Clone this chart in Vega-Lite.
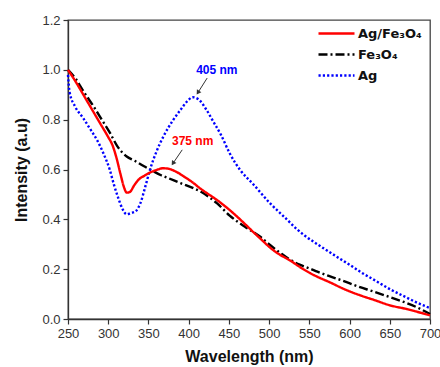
{
  "$schema": "https://vega.github.io/schema/vega-lite/v6.json",
  "width": 362,
  "height": 299,
  "autosize": {"type": "none"},
  "padding": {"left": 68, "top": 20, "right": 10, "bottom": 48},
  "background": "white",
  "config": {
    "font": "Liberation Sans",
    "view": {"stroke": "#444", "strokeWidth": 1.3},
    "axis": {"domainColor": "#333", "domainWidth": 1.3, "tickColor": "#333", "tickWidth": 1.2, "labelColor": "#333", "labelFontSize": 13, "grid": false, "titleFontSize": 16, "titleFontWeight": "bold", "titleColor": "#111"}
  },
  "datasets": {
    "spectra": [
      {"series": "Fe₃O₄", "wl": 250, "v": 1.0},
      {"series": "Fe₃O₄", "wl": 260, "v": 0.962},
      {"series": "Fe₃O₄", "wl": 270, "v": 0.91},
      {"series": "Fe₃O₄", "wl": 282, "v": 0.852},
      {"series": "Fe₃O₄", "wl": 292, "v": 0.8},
      {"series": "Fe₃O₄", "wl": 302, "v": 0.748},
      {"series": "Fe₃O₄", "wl": 311, "v": 0.695},
      {"series": "Fe₃O₄", "wl": 323, "v": 0.652},
      {"series": "Fe₃O₄", "wl": 333, "v": 0.635},
      {"series": "Fe₃O₄", "wl": 344, "v": 0.614},
      {"series": "Fe₃O₄", "wl": 355, "v": 0.595},
      {"series": "Fe₃O₄", "wl": 365, "v": 0.578},
      {"series": "Fe₃O₄", "wl": 375, "v": 0.565},
      {"series": "Fe₃O₄", "wl": 390, "v": 0.545},
      {"series": "Fe₃O₄", "wl": 406, "v": 0.525},
      {"series": "Fe₃O₄", "wl": 414, "v": 0.513},
      {"series": "Fe₃O₄", "wl": 425, "v": 0.49},
      {"series": "Fe₃O₄", "wl": 435, "v": 0.465},
      {"series": "Fe₃O₄", "wl": 451, "v": 0.415},
      {"series": "Fe₃O₄", "wl": 470, "v": 0.37},
      {"series": "Fe₃O₄", "wl": 489, "v": 0.33},
      {"series": "Fe₃O₄", "wl": 497, "v": 0.308},
      {"series": "Fe₃O₄", "wl": 514, "v": 0.265},
      {"series": "Fe₃O₄", "wl": 525, "v": 0.24},
      {"series": "Fe₃O₄", "wl": 538, "v": 0.218},
      {"series": "Fe₃O₄", "wl": 551, "v": 0.202},
      {"series": "Fe₃O₄", "wl": 560, "v": 0.19},
      {"series": "Fe₃O₄", "wl": 575, "v": 0.172},
      {"series": "Fe₃O₄", "wl": 592, "v": 0.153},
      {"series": "Fe₃O₄", "wl": 610, "v": 0.131},
      {"series": "Fe₃O₄", "wl": 630, "v": 0.11},
      {"series": "Fe₃O₄", "wl": 650, "v": 0.088},
      {"series": "Fe₃O₄", "wl": 671, "v": 0.064},
      {"series": "Fe₃O₄", "wl": 685, "v": 0.045},
      {"series": "Fe₃O₄", "wl": 700, "v": 0.02},
      {"series": "Ag", "wl": 250, "v": 0.98},
      {"series": "Ag", "wl": 252, "v": 0.91},
      {"series": "Ag", "wl": 259, "v": 0.852},
      {"series": "Ag", "wl": 269, "v": 0.806},
      {"series": "Ag", "wl": 277, "v": 0.765},
      {"series": "Ag", "wl": 286, "v": 0.719},
      {"series": "Ag", "wl": 294, "v": 0.665},
      {"series": "Ag", "wl": 302, "v": 0.598},
      {"series": "Ag", "wl": 307, "v": 0.54},
      {"series": "Ag", "wl": 312, "v": 0.49},
      {"series": "Ag", "wl": 318, "v": 0.44},
      {"series": "Ag", "wl": 323, "v": 0.42},
      {"series": "Ag", "wl": 328, "v": 0.425},
      {"series": "Ag", "wl": 334, "v": 0.432},
      {"series": "Ag", "wl": 340, "v": 0.465},
      {"series": "Ag", "wl": 346, "v": 0.53},
      {"series": "Ag", "wl": 352, "v": 0.6},
      {"series": "Ag", "wl": 360, "v": 0.672},
      {"series": "Ag", "wl": 369, "v": 0.735},
      {"series": "Ag", "wl": 380, "v": 0.795},
      {"series": "Ag", "wl": 390, "v": 0.84},
      {"series": "Ag", "wl": 398, "v": 0.873},
      {"series": "Ag", "wl": 405, "v": 0.89},
      {"series": "Ag", "wl": 412, "v": 0.882},
      {"series": "Ag", "wl": 422, "v": 0.84},
      {"series": "Ag", "wl": 431, "v": 0.79},
      {"series": "Ag", "wl": 440, "v": 0.74},
      {"series": "Ag", "wl": 451, "v": 0.665},
      {"series": "Ag", "wl": 464, "v": 0.598},
      {"series": "Ag", "wl": 480, "v": 0.542},
      {"series": "Ag", "wl": 501, "v": 0.465},
      {"series": "Ag", "wl": 522, "v": 0.4},
      {"series": "Ag", "wl": 534, "v": 0.362},
      {"series": "Ag", "wl": 545, "v": 0.333},
      {"series": "Ag", "wl": 560, "v": 0.3},
      {"series": "Ag", "wl": 572, "v": 0.275},
      {"series": "Ag", "wl": 585, "v": 0.248},
      {"series": "Ag", "wl": 600, "v": 0.218},
      {"series": "Ag", "wl": 615, "v": 0.186},
      {"series": "Ag", "wl": 630, "v": 0.158},
      {"series": "Ag", "wl": 650, "v": 0.12},
      {"series": "Ag", "wl": 671, "v": 0.086},
      {"series": "Ag", "wl": 685, "v": 0.064},
      {"series": "Ag", "wl": 700, "v": 0.044},
      {"series": "Ag/Fe₃O₄", "wl": 250, "v": 1.0},
      {"series": "Ag/Fe₃O₄", "wl": 260, "v": 0.95},
      {"series": "Ag/Fe₃O₄", "wl": 270, "v": 0.895},
      {"series": "Ag/Fe₃O₄", "wl": 280, "v": 0.84},
      {"series": "Ag/Fe₃O₄", "wl": 290, "v": 0.785},
      {"series": "Ag/Fe₃O₄", "wl": 300, "v": 0.73},
      {"series": "Ag/Fe₃O₄", "wl": 305, "v": 0.7},
      {"series": "Ag/Fe₃O₄", "wl": 310, "v": 0.65},
      {"series": "Ag/Fe₃O₄", "wl": 315, "v": 0.585},
      {"series": "Ag/Fe₃O₄", "wl": 320, "v": 0.525},
      {"series": "Ag/Fe₃O₄", "wl": 323, "v": 0.507},
      {"series": "Ag/Fe₃O₄", "wl": 327, "v": 0.51},
      {"series": "Ag/Fe₃O₄", "wl": 332, "v": 0.535},
      {"series": "Ag/Fe₃O₄", "wl": 338, "v": 0.56},
      {"series": "Ag/Fe₃O₄", "wl": 345, "v": 0.575},
      {"series": "Ag/Fe₃O₄", "wl": 352, "v": 0.588},
      {"series": "Ag/Fe₃O₄", "wl": 360, "v": 0.598},
      {"series": "Ag/Fe₃O₄", "wl": 368, "v": 0.605},
      {"series": "Ag/Fe₃O₄", "wl": 375, "v": 0.603},
      {"series": "Ag/Fe₃O₄", "wl": 385, "v": 0.59},
      {"series": "Ag/Fe₃O₄", "wl": 395, "v": 0.57},
      {"series": "Ag/Fe₃O₄", "wl": 405, "v": 0.548},
      {"series": "Ag/Fe₃O₄", "wl": 414, "v": 0.525},
      {"series": "Ag/Fe₃O₄", "wl": 425, "v": 0.5},
      {"series": "Ag/Fe₃O₄", "wl": 435, "v": 0.478},
      {"series": "Ag/Fe₃O₄", "wl": 450, "v": 0.44},
      {"series": "Ag/Fe₃O₄", "wl": 472, "v": 0.375},
      {"series": "Ag/Fe₃O₄", "wl": 480, "v": 0.35},
      {"series": "Ag/Fe₃O₄", "wl": 490, "v": 0.32},
      {"series": "Ag/Fe₃O₄", "wl": 500, "v": 0.29},
      {"series": "Ag/Fe₃O₄", "wl": 510, "v": 0.265},
      {"series": "Ag/Fe₃O₄", "wl": 526, "v": 0.235},
      {"series": "Ag/Fe₃O₄", "wl": 540, "v": 0.205},
      {"series": "Ag/Fe₃O₄", "wl": 551, "v": 0.184},
      {"series": "Ag/Fe₃O₄", "wl": 563, "v": 0.165},
      {"series": "Ag/Fe₃O₄", "wl": 575, "v": 0.148},
      {"series": "Ag/Fe₃O₄", "wl": 592, "v": 0.122},
      {"series": "Ag/Fe₃O₄", "wl": 600, "v": 0.111},
      {"series": "Ag/Fe₃O₄", "wl": 615, "v": 0.093},
      {"series": "Ag/Fe₃O₄", "wl": 630, "v": 0.077},
      {"series": "Ag/Fe₃O₄", "wl": 650, "v": 0.055},
      {"series": "Ag/Fe₃O₄", "wl": 671, "v": 0.04},
      {"series": "Ag/Fe₃O₄", "wl": 685, "v": 0.028},
      {"series": "Ag/Fe₃O₄", "wl": 700, "v": 0.015}
    ],
    "notes": [
      {"series": "Ag", "label": "405 nm", "tx": 435, "ty": 1.0, "ax": 423, "ay": 0.967, "hx": 412, "hy": 0.911},
      {"series": "Ag/Fe₃O₄", "label": "375 nm", "tx": 405, "ty": 0.715, "ax": 392, "ay": 0.679, "hx": 381, "hy": 0.627}
    ]
  },
  "layer": [
    {
      "data": {"name": "spectra"},
      "mark": {"type": "line", "strokeWidth": 2.4, "interpolate": "monotone"},
      "encoding": {
        "x": {
          "field": "wl", "type": "quantitative",
          "scale": {"domain": [250, 700], "nice": false, "zero": false},
          "axis": {
            "title": "Wavelength (nm)",
            "values": [250, 275, 300, 325, 350, 375, 400, 425, 450, 475, 500, 525, 550, 575, 600, 625, 650, 675, 700],
            "labelExpr": "datum.value % 50 === 0 ? datum.value : ''",
            "tickSize": {"condition": {"test": "datum.value % 50 === 0", "value": 5}, "value": 3},
            "labelPadding": 3,
            "titlePadding": 8,
            "labelFlush": false
          }
        },
        "y": {
          "field": "v", "type": "quantitative",
          "scale": {"domain": [0, 1.2], "nice": false},
          "axis": {
            "title": "Intensity (a.u)",
            "values": [0, 0.1, 0.2, 0.3, 0.4, 0.5, 0.6, 0.7, 0.8, 0.9, 1.0, 1.1, 1.2],
            "labelExpr": "round(datum.value * 10) % 2 === 0 ? format(datum.value, '.1f') : ''",
            "tickSize": {"condition": {"test": "round(datum.value * 10) % 2 === 0", "value": 5}, "value": 3},
            "labelPadding": 3,
            "titlePadding": 12,
            "labelFlush": false
          }
        },
        "color": {
          "field": "series", "type": "nominal",
          "scale": {"domain": ["Ag/Fe₃O₄", "Fe₃O₄", "Ag"], "range": ["#ff0000", "#000000", "#0000ff"]},
          "legend": {
            "title": null,
            "orient": "none",
            "legendX": 255,
            "legendY": 0,
            "padding": 0,
            "rowPadding": 0,
            "symbolType": "M-1.5,0H1.5",
            "symbolSize": 576,
            "symbolStrokeWidth": 2.4,
            "labelOffset": 8,
            "labelFontSize": 13,
            "labelFont": "DejaVu Sans",
            "labelFontWeight": "bold",
            "labelColor": "#111",
            "labelLimit": 200
          }
        },
        "strokeDash": {
          "field": "series", "type": "nominal",
          "scale": {"domain": ["Ag/Fe₃O₄", "Fe₃O₄", "Ag"], "range": [[1, 0], [9, 3, 2, 3], [2.2, 2.1]]},
          "legend": {
            "title": null,
            "orient": "none",
            "legendX": 255,
            "legendY": 0,
            "padding": 0,
            "rowPadding": 0,
            "symbolType": "M-1.5,0H1.5",
            "symbolSize": 576,
            "symbolStrokeWidth": 2.4,
            "labelOffset": 8,
            "labelFontSize": 13,
            "labelFont": "DejaVu Sans",
            "labelFontWeight": "bold",
            "labelColor": "#111",
            "labelLimit": 200
          }
        }
      }
    },
    {
      "data": {"name": "notes"},
      "mark": {"type": "rule", "color": "#333", "strokeWidth": 1},
      "encoding": {
        "x": {"field": "ax", "type": "quantitative"},
        "y": {"field": "ay", "type": "quantitative"},
        "x2": {"field": "hx"},
        "y2": {"field": "hy"}
      }
    },
    {
      "data": {"name": "notes"},
      "mark": {"type": "point", "shape": "triangle", "filled": true, "color": "#333", "size": 28, "angle": 213, "opacity": 1},
      "encoding": {
        "x": {"field": "hx", "type": "quantitative"},
        "y": {"field": "hy", "type": "quantitative"}
      }
    },
    {
      "data": {"name": "notes"},
      "mark": {"type": "text", "fontSize": 12, "fontWeight": "bold", "align": "center", "baseline": "middle"},
      "encoding": {
        "x": {"field": "tx", "type": "quantitative"},
        "y": {"field": "ty", "type": "quantitative"},
        "text": {"field": "label"},
        "color": {"field": "series", "type": "nominal"}
      }
    }
  ]
}
